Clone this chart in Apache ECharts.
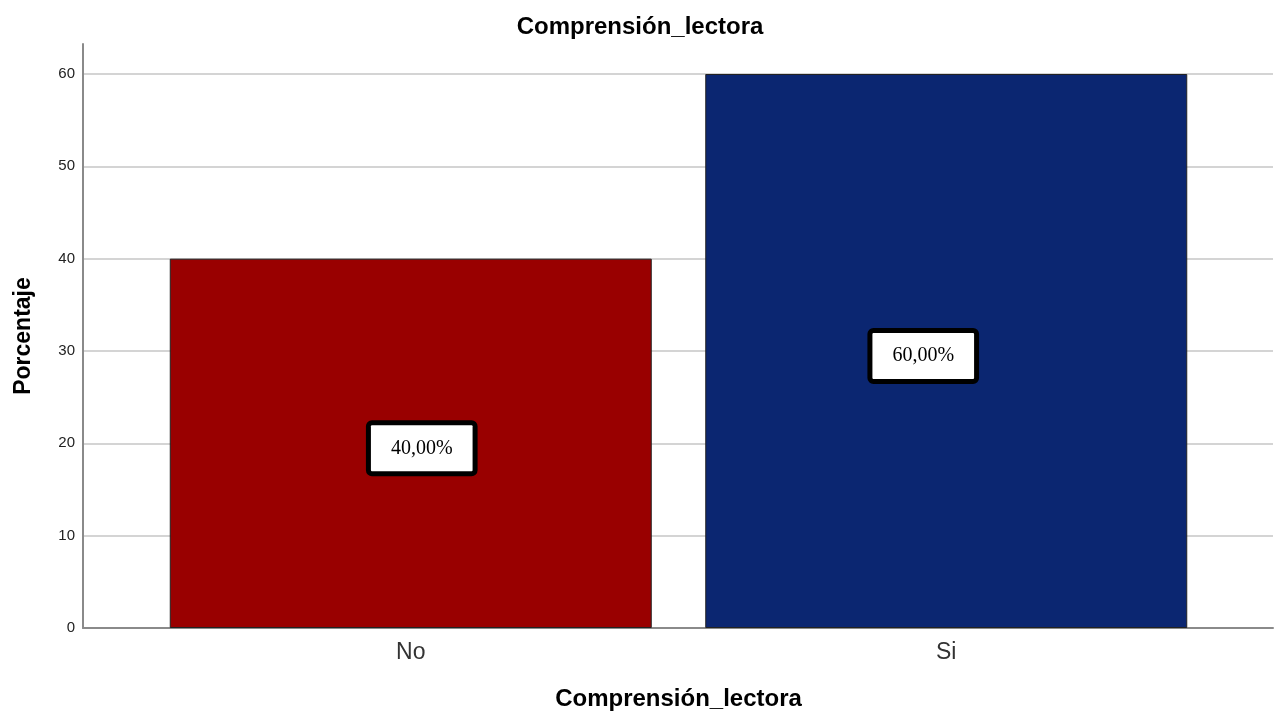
<!DOCTYPE html>
<html>
<head>
<meta charset="utf-8">
<script src="https://cdn.jsdelivr.net/npm/echarts@6/dist/echarts.min.js"></script>
<style>html,body{margin:0;padding:0;background:#fff}#c{width:1280px;height:711px}</style>
</head>
<body>
<div id="c"></div>
<script>
var titleText = 'Comprensión_lectora';
var categories = ['No', 'Si'];
var values = [40, 60];
var barColors = ['#990000', '#0b2671'];
var yTicks = [0, 10, 20, 30, 40, 50, 60];
var labelOffsets = [[11, 5], [-23, 5]];

var chart = echarts.init(document.getElementById('c'));
var font = 'Liberation Sans, Arial, sans-serif';
var yMax = 63.25;
chart.setOption({
  animation: false,
  backgroundColor: '#fff',
  title: {
    text: titleText, left: 'center', top: 10,
    textStyle: {fontFamily: font, fontSize: 24, fontWeight: 'bold', color: '#000'}
  },
  grid: [
    {left: 83, right: 7, top: 44, bottom: 83, outerBoundsMode: 'none', containLabel: false},
    {left: 143, width: 1071, top: 44, bottom: 83, outerBoundsMode: 'none', containLabel: false}
  ],
  xAxis: [
    {
      gridIndex: 0, type: 'value', min: 0, max: 1,
      axisLine: {show: true, lineStyle: {color: '#8a8a8a', width: 2}},
      axisTick: {show: false}, axisLabel: {show: false}, splitLine: {show: false}
    },
    {
      gridIndex: 1, type: 'category', data: categories,
      axisLine: {show: false}, axisTick: {show: false},
      axisLabel: {fontFamily: font, fontSize: 23, color: '#333', margin: 13},
      name: titleText, nameLocation: 'middle', nameGap: 59,
      nameTextStyle: {fontFamily: font, fontSize: 24, fontWeight: 'bold', color: '#000'}
    }
  ],
  yAxis: [
    {
      gridIndex: 0, type: 'value', min: 0, max: yMax, interval: 10,
      axisLine: {show: true, lineStyle: {color: '#8a8a8a', width: 2}},
      axisTick: {show: false},
      axisLabel: {
        fontFamily: font, fontSize: 15, color: '#222', margin: 8,
        formatter: function (v) { return yTicks.indexOf(v) >= 0 ? String(v) : ''; }
      },
      splitLine: {show: true, showMaxLine: false, lineStyle: {color: '#d4d4d4', width: 2}},
      name: 'Porcentaje', nameLocation: 'middle', nameGap: 48,
      nameTextStyle: {fontFamily: font, fontSize: 23, fontWeight: 'bold', color: '#000'}
    },
    {
      gridIndex: 1, type: 'value', min: 0, max: yMax,
      axisLine: {show: false}, axisTick: {show: false}, axisLabel: {show: false},
      splitLine: {show: false}
    }
  ],
  series: [{
    type: 'bar', xAxisIndex: 1, yAxisIndex: 1, barWidth: 482,
    data: values.map(function (v, i) {
      return {
        value: v,
        itemStyle: {color: barColors[i], borderColor: '#222', borderWidth: 1},
        label: {offset: labelOffsets[i]}
      };
    }),
    label: {
      show: true, position: 'inside',
      formatter: function (p) { return p.value.toFixed(2).replace('.', ',') + '%'; },
      fontFamily: 'Liberation Serif, Times New Roman, serif', fontSize: 20, color: '#000',
      backgroundColor: '#fff', borderColor: '#000', borderWidth: 5,
      padding: [13, 20], borderRadius: 1
    }
  }]
});
</script>
</body>
</html>
